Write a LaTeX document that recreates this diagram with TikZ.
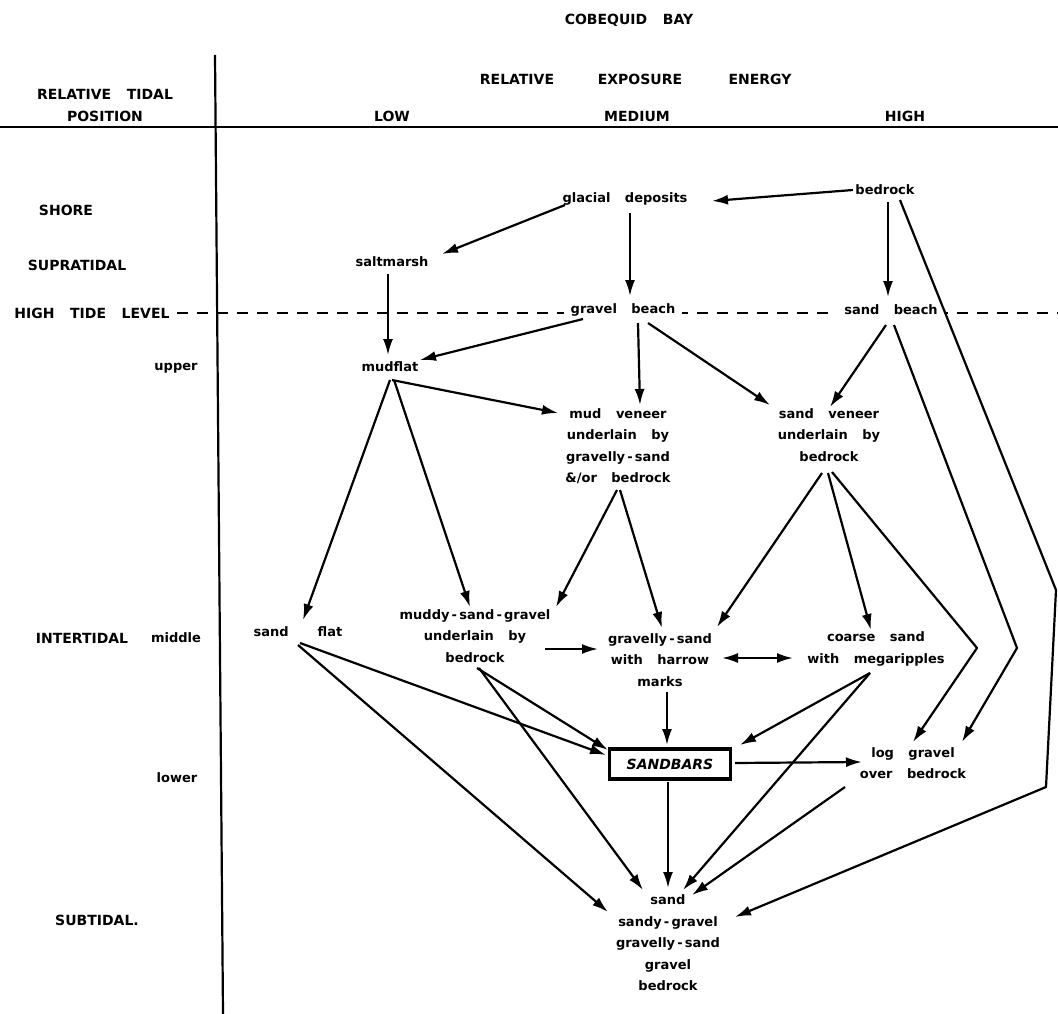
\documentclass[tikz,border=0pt]{standalone}
\usepackage{fontspec}
\setmainfont{DejaVu Sans}[WordSpace=1.6]
\usetikzlibrary{arrows.meta}
\newcommand\lb{\fontsize{13}{21.5}\selectfont\bfseries}
\newcommand\lbc{\fontsize{14}{21.5}\selectfont\bfseries}
\begin{document}
\begin{tikzpicture}[x=1pt,y=-1pt,
  lbl/.style={font=\lb, inner sep=2pt, align=center},
  capslbl/.style={font=\lbc, inner sep=2pt, align=center},
  arr/.style={line width=2.2pt, -{Latex[length=16pt,width=10pt]}},
  dbl/.style={line width=2.2pt, {Latex[length=16pt,width=10pt]}-{Latex[length=16pt,width=10pt]}},
  ln/.style={line width=2.2pt}]
\useasboundingbox (0,0) rectangle (1058,1014);
% frame
\draw[ln] (215,55) -- (223,1014);
\draw[ln] (0,127) -- (1058,127);
\draw[ln, dash pattern=on 11pt off 9pt] (177,313) -- (1058,313);
% header
\node[capslbl] (title) at (629,20) {COBEQUID\ \ BAY};
\node[capslbl] (rt) at (105,94) {RELATIVE\ \ TIDAL};
\node[capslbl] (pos) at (105,116) {POSITION};
\node[capslbl] (rel) at (517,79) {RELATIVE};
\node[capslbl] (exp) at (640,79) {EXPOSURE};
\node[capslbl] (ene) at (760,79) {ENERGY};
\node[capslbl] (low) at (392,116) {LOW};
\node[capslbl] (med) at (637,116) {MEDIUM};
\node[capslbl] (hig) at (905,116) {HIGH};
% left labels
\node[capslbl] (shore) at (66,210) {SHORE};
\node[capslbl] (supra) at (77,265) {SUPRATIDAL};
\node[capslbl, fill=white, inner sep=1pt] (htl) at (92,313) {HIGH\ \ TIDE\ \ LEVEL};
\node[lbl] (upper) at (176,368) {upper};
\node[capslbl] (inter) at (82,638) {INTERTIDAL};
\node[lbl] (middle) at (176,638) {middle};
\node[lbl] (lower) at (177,778) {lower};
\node[capslbl] (subt) at (97,920) {SUBTIDAL.};
% nodes
\node[lbl] (bedrock) at (885,190) {bedrock};
\node[lbl] (glac) at (625,199) {glacial\ \ deposits};
\node[lbl] (salt) at (392,262) {saltmarsh};
\node[lbl, fill=white, inner xsep=7pt] (gbeach) at (623,310) {gravel\ \ beach};
\node[lbl, fill=white, inner xsep=7pt] (sbeach) at (891,310) {sand\ \ beach};
\node[lbl] (mudflat) at (390,367) {mudflat};
\node[lbl] (mudv) at (618,446) {mud\ \ veneer\\underlain\ \ by\\gravelly\,-\,sand\\\&/or\ \ bedrock};
\node[lbl] (sandv) at (829,435) {sand\ \ veneer\\underlain\ \ by\\bedrock};
\node[lbl] (sandflat) at (298,632) {sand\ \ \ \ flat};
\node[lbl] (muddy) at (475,636) {muddy\,-\,sand\,-\,gravel\\underlain\ \ by\\bedrock};
\node[lbl] (gsand) at (660,660) {gravelly\,-\,sand\\with\ \ harrow\\marks};
\node[lbl] (coarse) at (876,649) {coarse\ \ sand\\with\ \ megaripples};
\node[draw, line width=3.5pt, minimum width=121, minimum height=30, inner sep=0pt,
      font=\lbc\itshape] (sandbars) at (670,764) {SANDBARS};
\node[lbl] (log) at (913,763) {log\ \ gravel\\over\ \ bedrock};
\node[lbl] (bottom) at (668,943) {sand\\sandy\,-\,gravel\\gravelly\,-\,sand\\gravel\\bedrock};
% bend points
\coordinate (bA) at (1056,590);
\coordinate (bB) at (1046,787);
\coordinate (bC) at (977,648);
\coordinate (bD) at (1017,648);
% arrows
\draw[arr] ([shift={(-32,0)}]bedrock.center) -- ([shift={(87,2)}]glac.center);
\draw[arr] ([shift={(3,12)}]bedrock.center) -- ([shift={(-3,-13)}]sbeach.center);
\draw[arr, line join=round] ([shift={(15,10)}]bedrock.center) -- (bA) -- (bB) -- ([shift={(67,-26)}]bottom.center);
\draw[arr] ([shift={(-60,6)}]glac.center) -- ([shift={(50,-8)}]salt.center);
\draw[arr] ([shift={(5,14)}]glac.center) -- ([shift={(7,-14)}]gbeach.center);
\draw[arr] ([shift={(-4,12)}]salt.center) -- ([shift={(-2,-12)}]mudflat.center);
\draw[arr] ([shift={(-40,9)}]gbeach.center) -- ([shift={(30,-7)}]mudflat.center);
\draw[arr] ([shift={(15,13)}]gbeach.center) -- ([shift={(22,-41)}]mudv.center);
\draw[arr] ([shift={(25,13)}]gbeach.center) -- ([shift={(-59,-30)}]sandv.center);
\draw[arr] ([shift={(-5,15)}]sbeach.center) -- ([shift={(1,-28)}]sandv.center);
\draw[arr] ([shift={(2,13)}]mudflat.center) -- ([shift={(-60,-33)}]mudv.center);
\draw[arr] ([shift={(0,13)}]mudflat.center) -- ([shift={(5,-12)}]sandflat.center);
\draw[arr] ([shift={(4,13)}]mudflat.center) -- ([shift={(-5,-29)}]muddy.center);
\draw[arr] ([shift={(-1,44)}]mudv.center) -- ([shift={(81,-29)}]muddy.center);
\draw[arr] ([shift={(2,44)}]mudv.center) -- ([shift={(2,-32)}]gsand.center);
\draw[arr] ([shift={(-7,38)}]sandv.center) -- ([shift={(57,-33)}]gsand.center);
\draw[arr] ([shift={(-1,38)}]sandv.center) -- ([shift={(-5,-19)}]coarse.center);
\draw[arr, line join=round] ([shift={(3,37)}]sandv.center) -- (bC) -- ([shift={(0,-21)}]log.center);
\draw[arr, line join=round] ([shift={(3,15)}]sbeach.center) -- (bD) -- ([shift={(49,-21)}]log.center);
\draw[arr] ([shift={(70,13)}]muddy.center) -- ([shift={(-62,-11)}]gsand.center);
\draw[dbl] ([shift={(62,-2)}]gsand.center) -- ([shift={(-83,9)}]coarse.center);
\draw[arr] ([shift={(2,11)}]sandflat.center) -- ([shift={(-64,-9)}]sandbars.center);
\draw[arr] ([shift={(0,13)}]sandflat.center) -- ([shift={(-60,-31)}]bottom.center);
\draw[arr] ([shift={(2,32)}]muddy.center) -- ([shift={(-62,-14)}]sandbars.center);
\draw[arr] ([shift={(4,32)}]muddy.center) -- ([shift={(-25,-53)}]bottom.center);
\draw[arr] ([shift={(7,32)}]gsand.center) -- ([shift={(-3,-19)}]sandbars.center);
\draw[arr] ([shift={(-6,24)}]coarse.center) -- ([shift={(70,-19)}]sandbars.center);
\draw[arr] ([shift={(-6,24)}]coarse.center) -- ([shift={(15,-53)}]bottom.center);
\draw[arr] ([shift={(65,-1)}]sandbars.center) -- ([shift={(-51,-1)}]log.center);
\draw[arr] ([shift={(-2,18)}]sandbars.center) -- ([shift={(0,-55)}]bottom.center);
\draw[arr] ([shift={(-68,24)}]log.center) -- ([shift={(24,-48)}]bottom.center);
\end{tikzpicture}
\end{document}
